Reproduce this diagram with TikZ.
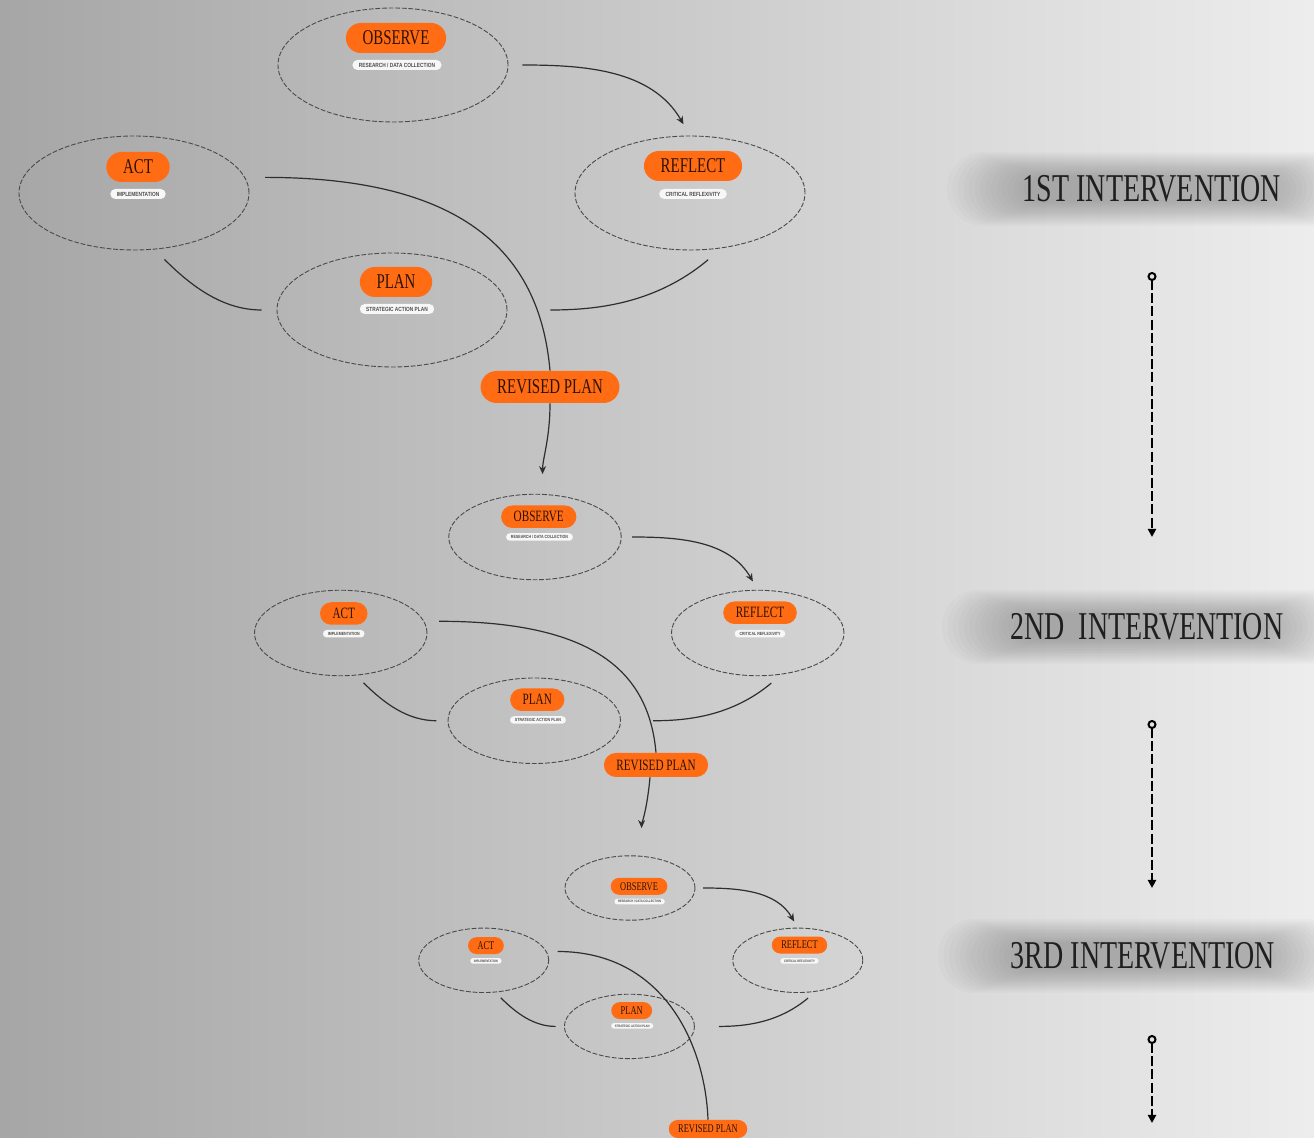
\documentclass[tikz,border=0pt]{standalone}
\usepackage{fontspec}
\setmainfont{Liberation Serif}
\newfontfamily\narrowserif[FakeStretch=0.71]{Liberation Serif}
\newfontfamily\narrowsans[FakeStretch=0.8]{Liberation Sans}
\usetikzlibrary{shapes.geometric,shapes.misc,arrows.meta}

\definecolor{bgleft}{HTML}{A6A6A6}
\definecolor{bgright}{HTML}{EDEDED}
\definecolor{pillorange}{HTML}{FF6C14}
\definecolor{pillink}{HTML}{2B1205}
\definecolor{ringgray}{HTML}{4A4A4A}
\definecolor{linkgray}{HTML}{2E2E2E}

\tikzset{
  ring/.style={ellipse, draw=ringgray, line width=0.45pt, dash pattern=on 2.4pt off 0.9pt,
    minimum width=115pt, minimum height=57pt, inner sep=0pt},
  pill/.style={rounded rectangle, fill=pillorange, text=pillink,
    font=\narrowserif\fontsize{10.5}{12}\selectfont, inner xsep=7.5pt, inner ysep=0pt, minimum height=15pt},
  tag/.style={rounded rectangle, fill=white!94!gray, text=black!70,
    font=\narrowsans\bfseries\fontsize{3}{3.5}\selectfont, inner xsep=3pt, inner ysep=0pt, minimum height=5pt},
  link/.style={draw=linkgray, line width=0.6pt},
  tip/.style={-{Stealth[length=4pt,width=3.5pt]}},
  timeline/.style={line width=1pt, dash pattern=on 5pt off 1.6pt,
    {Circle[open,length=4.5pt,width=4.5pt]}-{Triangle[length=4pt,width=4pt]}},
  intlabel/.style={font=\narrowserif\fontsize{19.7}{22}\selectfont, text=black!88},
  % one observe-reflect-plan-act loop: #1 = scale, (#2,#3) = observe label spot
  pics/cycle/.style n args={3}{code={
    \node[ring] (-obs) at (0,0) {};
    \node[ring] (-ref) at (297,128) {};
    \node[ring] (-act) at (-259,128) {};
    \node[ring] (-pln) at (-1,245) {};
    \node[pill] (-obsp) at (#2,#3) {OBSERVE};
    \node[tag] (-obst) at (#2+1,#3+27) {RESEARCH / DATA COLLECTION};
    \node[pill] (-refp) at (300,101) {REFLECT};
    \node[tag] (-reft) at (300,129) {CRITICAL REFLEXIVITY};
    \node[pill] (-actp) at (-255,102) {ACT};
    \node[tag] (-actt) at (-255,129) {IMPLEMENTATION};
    \node[pill] (-plnp) at (3,217) {PLAN};
    \node[tag] (-plnt) at (4,244) {STRATEGIC ACTION PLAN};
    \draw[link, tip, shorten <=#1*7pt, shorten >=#1*6.5pt] (-obs.east) to[out=0, in=120] (-ref.north);
    \draw[link, shorten <=#1*9pt, shorten >=#1*21.5pt] (-ref.-60) to[out=-140, in=0] (-pln.east);
    \draw[link, shorten <=#1*7.5pt, shorten >=#1*7pt] (-pln.west) to[out=180, in=-45] (-act.-70);
  }}
}

\begin{document}
\begin{tikzpicture}[x=0.5pt, y=-0.5pt]
  \useasboundingbox (0,0) rectangle (1314,1138);
  \clip (0,0) rectangle (1314,1138);
  \shade[left color=bgleft, right color=bgright] (0,0) rectangle (1314,1138);

  % intervention labels with their soft shadow
  \foreach \n/\x/\y/\t in {int1/1152/189/1ST INTERVENTION, int2/1147/627/2ND~ INTERVENTION, int3/1143/956/3RD INTERVENTION}{
    \foreach \k in {0,...,15}
      \fill[black, opacity=0.014, rounded corners=18pt-0.7pt*\k] (\x-205+5.5*\k, \y-37+1.6*\k) rectangle (\x+205-5.5*\k, \y+37-1.6*\k);
    \node[intlabel] (\n) at (\x,\y) {\t};
  }

  % timeline arrows
  \coordinate (t1a) at (1152,272);
  \coordinate (t1b) at (1152,537);
  \coordinate (t2a) at (1152,720);
  \coordinate (t2b) at (1152,888);
  \coordinate (t3a) at (1152,1035);
  \coordinate (t3b) at (1152,1123);
  \draw[timeline] (t1a) -- (t1b);
  \draw[timeline] (t2a) -- (t2b);
  \draw[timeline] (t3a) -- (t3b);

  % the three loops
  \pic[transform shape] (c1) at (393,65) {cycle={1}{3}{-27}};
  \pic[scale=0.75, transform shape] (c2) at (535,537) {cycle={0.75}{5}{-27}};
  \pic[scale=0.565, transform shape] (c3) at (630,888) {cycle={0.565}{16}{-3}};

  \node[pill, minimum height=16pt] (rp1) at (550,387) {REVISED PLAN};
  \node[pill, minimum height=16pt, scale=0.75] (rp2) at (656,765) {REVISED PLAN};
  \node[pill, minimum height=16pt, scale=0.565] (rp3) at (708,1129) {REVISED PLAN};

  \draw[link, shorten <=10pt] (c1-act.8) to[out=0, in=95, out looseness=1.6, in looseness=0.8] (rp1.north);
  \draw[link, shorten <=7.5pt] (c2-act.8) to[out=0, in=95, out looseness=1.6, in looseness=0.8] (rp2.north);
  \draw[link, shorten <=5.6pt] (c3-act.8) to[out=0, in=92, out looseness=1.3, in looseness=0.8] (rp3.north);

  \draw[link, tip, shorten >=10pt] (rp1.south) to[out=-90, in=90] (c2-obs.80);
  \draw[link, tip, shorten >=14pt] ([xshift=-3pt]rp2.south) to[out=-95, in=90] (c3-obs.70);
\end{tikzpicture}
\end{document}
